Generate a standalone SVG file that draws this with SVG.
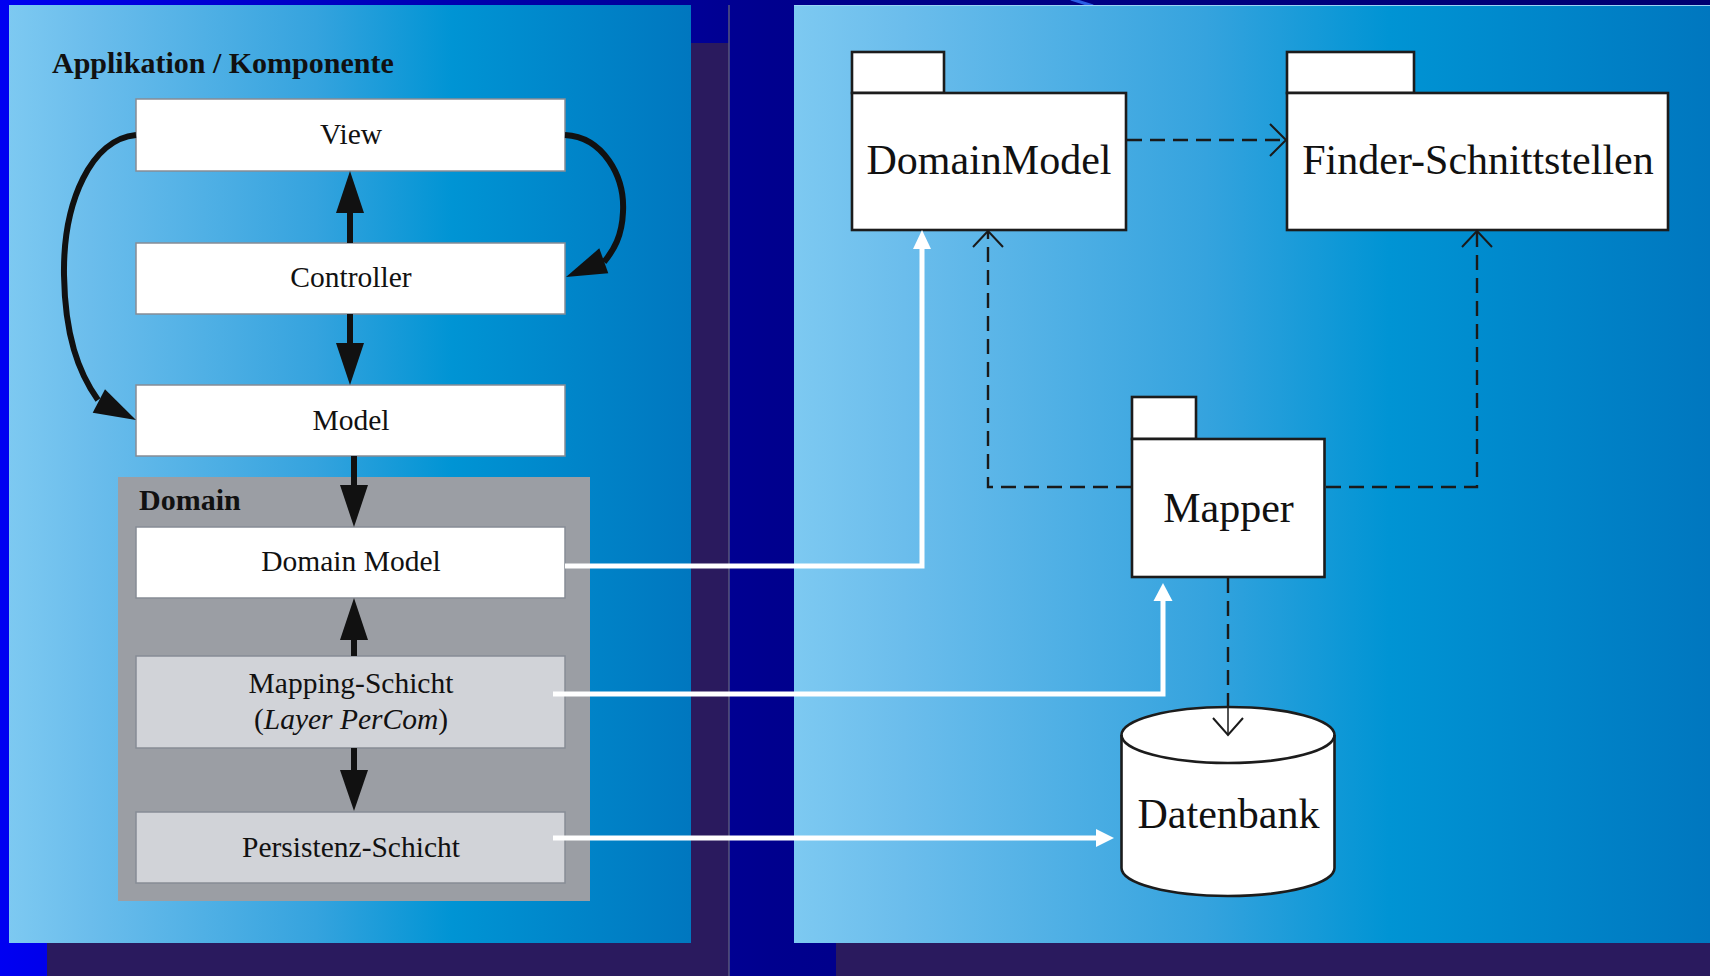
<svg xmlns="http://www.w3.org/2000/svg" width="1710" height="976" viewBox="0 0 1710 976">
  <defs>
    <linearGradient id="bg" x1="0" y1="0" x2="1710" y2="0" gradientUnits="userSpaceOnUse">
      <stop offset="0" stop-color="#0000F2"/>
      <stop offset="0.03" stop-color="#0000EA"/>
      <stop offset="0.3" stop-color="#0000A8"/>
      <stop offset="0.45" stop-color="#00008E"/>
      <stop offset="1" stop-color="#000070"/>
    </linearGradient>
    <linearGradient id="panel" x1="0" y1="0" x2="1" y2="0">
      <stop offset="0" stop-color="#7DC9F1"/>
      <stop offset="0.12" stop-color="#6BBDEC"/>
      <stop offset="0.45" stop-color="#35A3DE"/>
      <stop offset="0.65" stop-color="#0094D4"/>
      <stop offset="1" stop-color="#0077BF"/>
    </linearGradient>
    <style>
      .panel { fill: url(#panel); }
      .shadow { fill: #2A1A5E; }
      .box { fill: #FFFFFF; stroke: #878C95; stroke-width: 1.5; }
      .box-grey { fill: #D1D3D8; stroke: #878C95; stroke-width: 1.5; }
      .lbl { font-family: "Liberation Serif", "Times New Roman", serif; font-size: 29.5px; fill: #111; text-anchor: middle; }
      .head { font-family: "Liberation Serif", "Times New Roman", serif; font-size: 30px; font-weight: bold; fill: #111; }
      .pkg { fill: #FFFFFF; stroke: #1C1C1C; stroke-width: 2.6; }
      .pkg-lbl { font-family: "Liberation Serif", "Times New Roman", serif; font-size: 42px; fill: #111; text-anchor: middle; }
      .thick { fill: none; stroke: #111; stroke-width: 6; }
      .thick-head { fill: #111; }
      .white { fill: none; stroke: #FFFFFF; stroke-width: 5; }
      .white-head { fill: #FFFFFF; }
      .dash { fill: none; stroke: #1A1A1A; stroke-width: 2.4; stroke-dasharray: 15 8; }
      .open-head { fill: none; stroke: #1A1A1A; stroke-width: 2; }
    </style>
  </defs>

  <!-- slide background -->
  <rect x="0" y="0" width="1710" height="976" fill="url(#bg)"/>
  <line x1="1071" y1="-1" x2="1093" y2="6" stroke="#2B5DE6" stroke-width="3"/>

  <!-- panel shadows -->
  <rect class="shadow" x="47" y="43" width="682" height="933"/>
  <rect class="shadow" x="836" y="43" width="874" height="933"/>
  <line x1="729" y1="5" x2="729" y2="976" stroke="#56567E" stroke-width="1.5"/>

  <!-- panels -->
  <rect class="panel" x="9" y="5" width="682" height="938"/>
  <rect class="panel" x="794" y="5" width="916" height="938"/>
  <line x1="794" y1="5.5" x2="1710" y2="5.5" stroke="#9AD4F4" stroke-width="1"/>

  <!-- left: application / component -->
  <text class="head" x="52" y="73">Applikation / Komponente</text>

  <rect id="domain-area" x="118" y="477" width="472" height="424" fill="#9B9EA4"/>
  <text class="head" x="139" y="510">Domain</text>

  <g id="view">
    <rect class="box" x="136" y="99" width="429" height="72"/>
    <text class="lbl" x="351" y="144">View</text>
  </g>
  <g id="controller">
    <rect class="box" x="136" y="243" width="429" height="71"/>
    <text class="lbl" x="351" y="287">Controller</text>
  </g>
  <g id="model">
    <rect class="box" x="136" y="385" width="429" height="71"/>
    <text class="lbl" x="351" y="430">Model</text>
  </g>
  <g id="domain-model">
    <rect class="box" x="136" y="527" width="429" height="71"/>
    <text class="lbl" x="351" y="571">Domain Model</text>
  </g>
  <g id="mapping-schicht">
    <rect class="box-grey" x="136" y="656" width="429" height="92"/>
    <text class="lbl" x="351" y="693">Mapping-Schicht</text>
    <text class="lbl" x="351" y="729">(<tspan font-style="italic">Layer PerCom</tspan>)</text>
  </g>
  <g id="persistenz-schicht">
    <rect class="box-grey" x="136" y="812" width="429" height="71"/>
    <text class="lbl" x="351" y="857">Persistenz-Schicht</text>
  </g>

  <!-- right: packages -->
  <g id="pkg-domainmodel">
    <rect class="pkg" x="852" y="52" width="92" height="41"/>
    <rect class="pkg" x="852" y="93" width="274" height="137"/>
    <text class="pkg-lbl" x="989" y="174">DomainModel</text>
  </g>
  <g id="pkg-finder">
    <rect class="pkg" x="1287" y="52" width="127" height="41"/>
    <rect class="pkg" x="1287" y="93" width="381" height="137"/>
    <text class="pkg-lbl" x="1478" y="174">Finder-Schnittstellen</text>
  </g>
  <g id="pkg-mapper">
    <rect class="pkg" x="1132" y="397" width="64" height="42"/>
    <rect class="pkg" x="1132" y="439" width="192.5" height="138"/>
    <text class="pkg-lbl" x="1228.5" y="522">Mapper</text>
  </g>
  <g id="datenbank">
    <path class="pkg" d="M1121.5,735 A106.5,28 0 0 1 1334.5,735 V868 A106.5,28 0 0 1 1121.5,868 Z"/>
    <path fill="none" stroke="#1C1C1C" stroke-width="2.6" d="M1121.5,735 A106.5,28 0 0 0 1334.5,735"/>
    <text class="pkg-lbl" x="1228.5" y="828">Datenbank</text>
  </g>

  <!-- connectors -->
  <g id="connectors">
    <!-- MVC arrows -->
    <line class="thick" x1="350" y1="243" x2="350" y2="208"/>
    <polygon class="thick-head" points="350,171 336,213 364,213"/>
    <line class="thick" x1="350" y1="314" x2="350" y2="348"/>
    <polygon class="thick-head" points="350,385 336,343 364,343"/>
    <path class="thick" d="M136,135 C92,139 63,200 64,275 C65,335 78,372 98,400"/>
    <polygon class="thick-head" points="136,420 92.7,412.7 105,389.3"/>
    <path class="thick" d="M565,135 C603,137 625,176 623,212 C622,236 614,250 604,262"/>
    <polygon class="thick-head" points="566,277 608.3,273.3 599.3,248.3"/>

    <!-- domain layer arrows -->
    <line class="thick" x1="354" y1="456" x2="354" y2="490"/>
    <polygon class="thick-head" points="354,527 340,485 368,485"/>
    <line class="thick" x1="354" y1="656" x2="354" y2="636"/>
    <polygon class="thick-head" points="354,598 340,640 368,640"/>
    <line class="thick" x1="354" y1="748" x2="354" y2="775"/>
    <polygon class="thick-head" points="354,811 340,770 368,770"/>

    <!-- layer to package mappings -->
    <polyline class="white" points="565,566 922,566 922,246"/>
    <polygon class="white-head" points="922,230 913,249 931,249"/>
    <polyline class="white" points="553,694 1163,694 1163,598"/>
    <polygon class="white-head" points="1163,583 1153.5,601 1172.5,601"/>
    <line class="white" x1="553" y1="838" x2="1098" y2="838"/>
    <polygon class="white-head" points="1114,838 1096,829 1096,847"/>

    <!-- package dependencies -->
    <line class="dash" x1="1127" y1="140" x2="1285" y2="140"/>
    <polyline class="open-head" points="1270,124 1286,140 1270,156"/>
    <polyline class="dash" points="1131,487 988,487 988,232"/>
    <polyline class="open-head" points="973,247 988,231 1003,247"/>
    <polyline class="dash" points="1326,487 1477,487 1477,232"/>
    <polyline class="open-head" points="1462,247 1477,231 1492,247"/>
    <line class="dash" x1="1228" y1="578" x2="1228" y2="707" stroke-width="2" stroke-dasharray="22 7"/>
    <line x1="1228" y1="707" x2="1228" y2="734" stroke="#1A1A1A" stroke-width="1.5"/>
    <polyline class="open-head" points="1213,718 1228,735 1243,718"/>
  </g>
</svg>
